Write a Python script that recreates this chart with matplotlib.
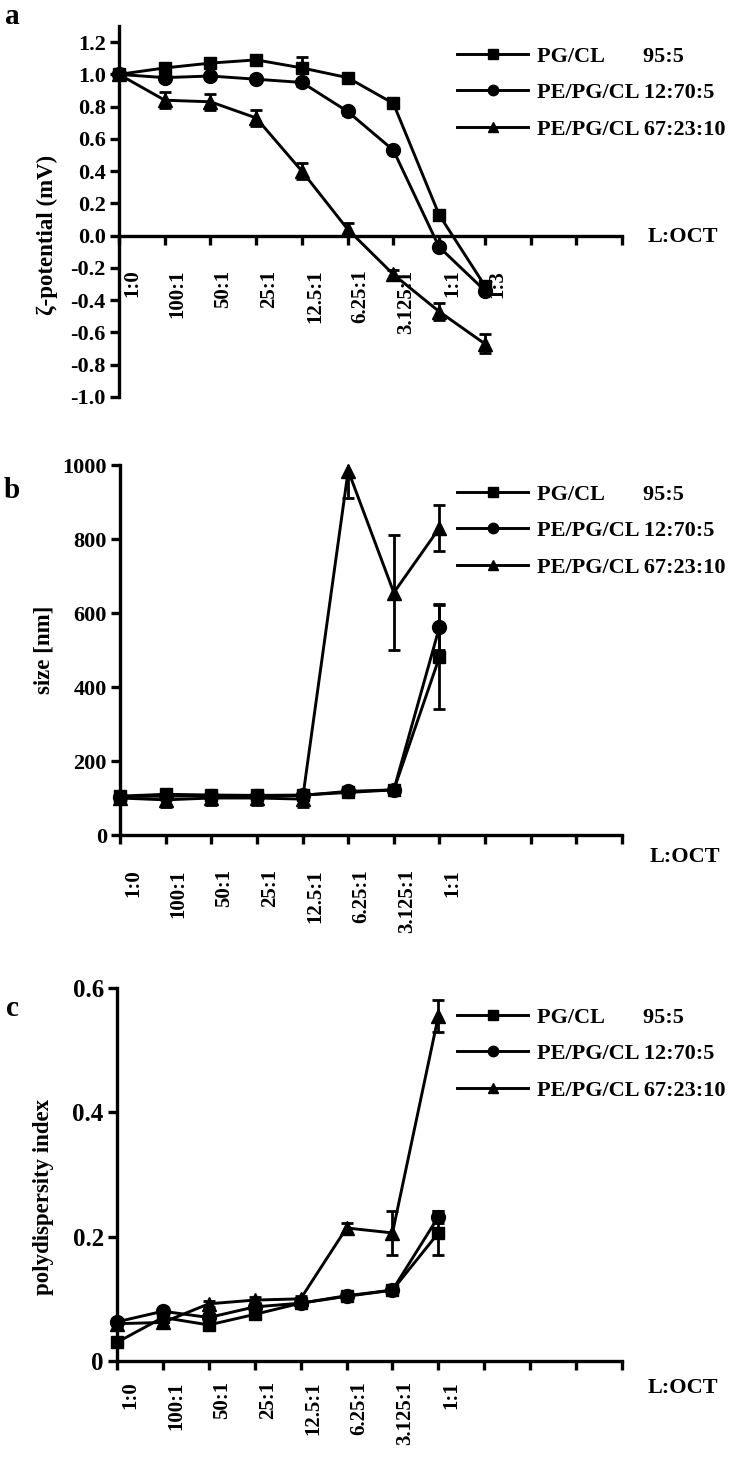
import numpy as np
import matplotlib
matplotlib.use("Agg")
import matplotlib.pyplot as plt
import matplotlib.transforms as mtransforms

plt.rcParams['font.family'] = ['Liberation Serif', 'DejaVu Serif']
plt.rcParams['font.weight'] = 'bold'

# --------------------------
# data
# --------------------------
ratios = ['1:0', '100:1', '50:1', '25:1', '12.5:1', '6.25:1', '3.125:1', '1:1', '1:3']
n_slots = 11

series_names = ['PG/CL       95:5', 'PE/PG/CL 12:70:5', 'PE/PG/CL 67:23:10']
markers = ['s', 'o', '^']
marker_sizes = [9, 10, 10.5]

# a: zeta potential (normalised)
zeta_pgcl = [1.00, 1.04, 1.07, 1.09, 1.04, 0.98, 0.82, 0.13, -0.31]
zeta_pgcl_err = [0.0, 0.02, 0.02, 0.02, 0.07, 0.02, 0.02, 0.02, 0.03]
zeta_12 = [1.00, 0.98, 0.99, 0.97, 0.95, 0.77, 0.53, -0.07, -0.34]
zeta_12_err = [0.0, 0.02, 0.02, 0.02, 0.02, 0.02, 0.02, 0.02, 0.02]
zeta_67 = [1.00, 0.84, 0.83, 0.73, 0.40, 0.04, -0.24, -0.47, -0.67]
zeta_67_err = [0.0, 0.05, 0.05, 0.05, 0.05, 0.04, 0.03, 0.05, 0.06]

# b: size [nm]
size_pgcl = [105, 110, 108, 107, 108, 115, 122, 481]
size_pgcl_err = [6, 6, 6, 6, 6, 6, 6, 140]
size_12 = [104, 105, 106, 105, 107, 118, 122, 562]
size_12_err = [6, 6, 6, 6, 6, 6, 6, 62]
size_67 = [100, 95, 100, 100, 97, 985, 655, 830]
size_67_err = [10, 20, 20, 20, 20, 75, 155, 62]

# c: polydispersity index
pdi_pgcl = [0.030, 0.070, 0.058, 0.075, 0.093, 0.104, 0.114, 0.206]
pdi_pgcl_err = [0.005, 0.005, 0.005, 0.005, 0.005, 0.005, 0.005, 0.035]
pdi_12 = [0.063, 0.080, 0.070, 0.087, 0.093, 0.105, 0.114, 0.232]
pdi_12_err = [0.005, 0.005, 0.005, 0.005, 0.005, 0.005, 0.005, 0.010]
pdi_67 = [0.060, 0.062, 0.092, 0.098, 0.100, 0.214, 0.206, 0.555]
pdi_67_err = [0.005, 0.005, 0.005, 0.005, 0.005, 0.008, 0.035, 0.025]

fig = plt.figure(figsize=(7.33, 14.68), dpi=100)

LW = 2.1
SPINE = 2.4


def px(x, y):
    # pixel position (from top-left) -> figure fraction
    return x / 733, 1 - y / 1468


def draw_panel(ax, ys, errs, xlabels, ylim, yticks, yticklabels, ylabel, pad, tick_fs,
               zero_axis=False):
    if zero_axis:
        ax.spines['bottom'].set_position(('data', 0))

    x = np.arange(len(xlabels))
    for y, e, m, ms, name in zip(ys, errs, markers, marker_sizes, series_names):
        ax.errorbar(x, y, yerr=e, fmt='none', ecolor='black', elinewidth=2.0,
                    capsize=4, capthick=2.0, zorder=2)
        ax.plot(x, y, color='black', lw=LW, marker=m, markersize=ms,
                label=name, zorder=3, clip_on=False)

    ax.set_xlim(0, n_slots)
    ax.set_ylim(*ylim)
    ax.set_yticks(yticks)
    ax.set_yticklabels(yticklabels, fontsize=tick_fs, fontweight='bold')
    ax.set_xticks(np.arange(n_slots + 1))
    ax.set_xticklabels(xlabels + [''] * (n_slots + 1 - len(xlabels)),
                       rotation=90, va='top', ha='center', fontsize=15, fontweight='bold')

    for s in ['top', 'right']:
        ax.spines[s].set_visible(False)
    for s in ['left', 'bottom']:
        ax.spines[s].set_linewidth(SPINE)
    ax.tick_params(axis='both', direction='out', length=6.5, width=SPINE, color='black')
    ax.tick_params(axis='x', pad=pad)
    ax.tick_params(axis='y', pad=3)
    ax.set_facecolor('none')

    ax.set_ylabel(ylabel, fontsize=16.5, fontweight='bold')

    shift = mtransforms.ScaledTranslation(0.13, 0, fig.dpi_scale_trans)
    for lab in ax.get_xticklabels():
        lab.set_transform(lab.get_transform() + shift)

    ax.legend(loc='upper left', frameon=False, borderpad=0, borderaxespad=0,
              handlelength=3.2, handletextpad=0.4, labelspacing=0.72, markerscale=0.75,
              prop={'size': 16, 'weight': 'bold'}, bbox_transform=fig.transFigure)


# ---- panel a
ax_a = fig.add_axes([119 / 733, 1 - 397 / 1468, 503 / 733, 371 / 1468])
yt_a = np.round(np.arange(-1.0, 1.21, 0.2), 1)
draw_panel(ax_a, [zeta_pgcl, zeta_12, zeta_67], [zeta_pgcl_err, zeta_12_err, zeta_67_err],
           ratios, (-1.0, 1.3), yt_a, ['%.1f' % (v + 0.0) for v in yt_a],
           'ζ-potential (mV)', 18, 16, zero_axis=True)
ax_a.yaxis.set_label_coords(-0.122, 0.437)
ax_a.get_legend().set_bbox_to_anchor(px(457, 46), transform=fig.transFigure)
fig.text(*px(683, 237), 'L:OCT', fontsize=16, fontweight='bold', ha='center', va='center')

# ---- panel b
ax_b = fig.add_axes([120 / 733, 1 - 835 / 1468, 502 / 733, 370 / 1468])
draw_panel(ax_b, [size_pgcl, size_12, size_67], [size_pgcl_err, size_12_err, size_67_err],
           ratios[:8], (0, 1000), np.arange(0, 1001, 200),
           [str(v) for v in range(0, 1001, 200)], 'size [nm]', 18, 16)
ax_b.yaxis.set_label_coords(-0.13, 0.5)
ax_b.get_legend().set_bbox_to_anchor(px(457, 484), transform=fig.transFigure)
fig.text(*px(685, 857), 'L:OCT', fontsize=16, fontweight='bold', ha='center', va='center')

# ---- panel c
ax_c = fig.add_axes([117 / 733, 1 - 1361 / 1468, 505 / 733, 373 / 1468])
draw_panel(ax_c, [pdi_pgcl, pdi_12, pdi_67], [pdi_pgcl_err, pdi_12_err, pdi_67_err],
           ratios[:8], (0, 0.6), [0, 0.2, 0.4, 0.6], ['0', '0.2', '0.4', '0.6'],
           'polydispersity index', 8, 18)
ax_c.yaxis.set_label_coords(-0.124, 0.44)
ax_c.get_legend().set_bbox_to_anchor(px(457, 1007), transform=fig.transFigure)
fig.text(*px(683, 1388), 'L:OCT', fontsize=16, fontweight='bold', ha='center', va='center')

# panel letters
for letter, ypix in [('a', 16), ('b', 490), ('c', 1008)]:
    fig.text(*px(12, ypix), letter, fontsize=21, fontweight='bold', ha='center', va='center')

fig.savefig('out.png', dpi=100, facecolor='white')
